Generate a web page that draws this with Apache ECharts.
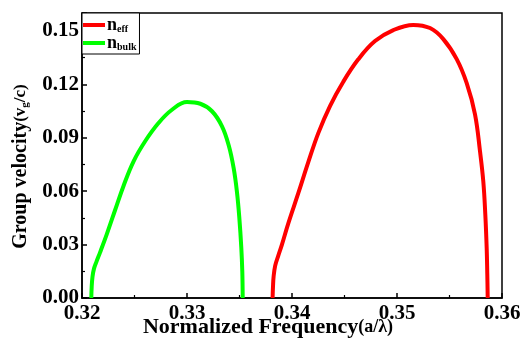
<!DOCTYPE html>
<html><head><meta charset="utf-8">
<script src="https://cdn.jsdelivr.net/npm/echarts@6/dist/echarts.min.js"></script>
<style>html,body{margin:0;padding:0;background:#fff}#c{width:521px;height:340px}</style>
</head><body><div id="c"></div>
<script>
const xTicks = [0.32, 0.33, 0.34, 0.35, 0.36];
const yTicks = [0.00, 0.03, 0.06, 0.09, 0.12, 0.15];
const bulkFreq = [0.320886, 0.320924, 0.321000, 0.321143, 0.321381, 0.321714, 0.322381, 0.323171, 0.323971, 0.324924, 0.326029, 0.327305, 0.328571, 0.330000, 0.331267, 0.332381, 0.333333, 0.333971, 0.334448, 0.334762, 0.334981, 0.335171, 0.335267, 0.335305];
const bulkVel  = [0.00000, 0.00636, 0.01199, 0.01649, 0.02043, 0.02549, 0.03618, 0.04969, 0.06320, 0.07687, 0.08813, 0.09837, 0.10568, 0.11001, 0.10906, 0.10484, 0.09640, 0.08571, 0.07277, 0.05926, 0.04519, 0.02831, 0.01480, 0.00000];
const effFreq = [0.338152, 0.338190, 0.338248, 0.338400, 0.338667, 0.339048, 0.339648, 0.340600, 0.341552, 0.342505, 0.343619, 0.344886, 0.346314, 0.347905, 0.349648, 0.351552, 0.353143, 0.354410, 0.355686, 0.356638, 0.357429, 0.357905, 0.358219, 0.358410, 0.358543, 0.358600, 0.358638];
const effVel  = [0.00000, 0.00636, 0.01199, 0.01818, 0.02324, 0.03011, 0.04193, 0.05881, 0.07626, 0.09257, 0.10777, 0.12144, 0.13399, 0.14423, 0.15042, 0.15333, 0.15155, 0.14536, 0.13410, 0.12060, 0.10315, 0.08233, 0.06545, 0.04688, 0.02774, 0.01311, 0.00000];

const pair = (xs, ys) => xs.map((x, i) => [x, ys[i]]);
const F = 'Liberation Serif, Times New Roman, serif';
const chart = echarts.init(document.getElementById('c'));
chart.setOption({
  animation: false,
  backgroundColor: '#fff',
  grid: {left: 82, right: 19, top: 13, bottom: 42, outerBoundsMode: 'none', containLabel: false,
    show: true, borderColor: '#000', borderWidth: 1.5, backgroundColor: 'transparent'},
  legend: {
    orient: 'vertical', left: 82, top: 13, padding: [3, 3, 2, 1], itemGap: 0,
    borderColor: '#000', borderWidth: 1, backgroundColor: '#fff',
    icon: 'rect', itemWidth: 22, itemHeight: 4,
    data: ['n_eff', 'n_bulk'],
    formatter: n => n === 'n_eff' ? '{n|n}{s|eff}' : '{n|n}{s|bulk}',
    textStyle: {
      fontFamily: F, fontWeight: 'bold', color: '#000', padding: [0, 0, 0, -3],
      rich: {
        n: {fontFamily: F, fontWeight: 'bold', fontSize: 18, lineHeight: 20},
        s: {fontFamily: F, fontWeight: 'bold', fontSize: 10, padding: [8, 0, 0, 0]}
      }
    }
  },
  xAxis: {
    type: 'value', min: xTicks[0], max: xTicks[xTicks.length - 1], interval: 0.01,
    name: '{a|Normalized Frequency}{b|(a/λ)}', nameLocation: 'middle', nameGap: 18, nameMoveOverlap: false,
    nameTextStyle: {fontFamily: F, fontWeight: 'bold', fontSize: 22, color: '#000', padding: [0, 48, 0, 0],
      rich: {
        a: {fontFamily: F, fontWeight: 'bold', fontSize: 22, color: '#000'},
        b: {fontFamily: F, fontWeight: 'bold', fontSize: 18, color: '#000'}
      }},
    axisLine: {lineStyle: {color: '#000', width: 1.5}},
    axisTick: {inside: true, length: 5, lineStyle: {color: '#000', width: 1.5}},
    minorTick: {show: true, splitNumber: 2, length: 3, lineStyle: {color: '#000', width: 1.2}},
    splitLine: {show: false},
    axisLabel: {fontFamily: F, fontWeight: 'bold', fontSize: 21, color: '#000', margin: 5,
      formatter: v => xTicks.some(t => Math.abs(t - v) < 1e-6) ? v.toFixed(2) : ''}
  },
  yAxis: {
    type: 'value', min: 0, max: 0.16, interval: 0.03,
    name: '{a|Group velocity}{b|(v}{s|g}{b|/c)}', nameLocation: 'middle', nameGap: 50, nameMoveOverlap: false,
    nameTextStyle: {fontFamily: F, fontWeight: 'bold', fontSize: 20, color: '#000', padding: [0, 22, 0, 0],
      rich: {
        a: {fontFamily: F, fontWeight: 'bold', fontSize: 20, color: '#000', lineHeight: 22},
        b: {fontFamily: F, fontWeight: 'bold', fontSize: 17, color: '#000', lineHeight: 22},
        s: {fontFamily: F, fontWeight: 'bold', fontSize: 11, color: '#000', padding: [8, 0, 0, 0]}
      }},
    axisLine: {lineStyle: {color: '#000', width: 1.5}},
    axisTick: {inside: true, length: 5, lineStyle: {color: '#000', width: 1.5}},
    minorTick: {show: true, splitNumber: 2, length: 3, lineStyle: {color: '#000', width: 1.2}},
    splitLine: {show: false},
    axisLabel: {fontFamily: F, fontWeight: 'bold', fontSize: 21, color: '#000', margin: 3, showMaxLabel: false,
      formatter: v => yTicks.some(t => Math.abs(t - v) < 1e-6) ? v.toFixed(2) : ''}
  },
  series: [
    {name: 'n_eff', type: 'line', data: pair(effFreq, effVel), smooth: 0.4, showSymbol: false,
      lineStyle: {color: '#ff0000', width: 4}, itemStyle: {color: '#ff0000'}},
    {name: 'n_bulk', type: 'line', data: pair(bulkFreq, bulkVel), smooth: 0.4, showSymbol: false,
      lineStyle: {color: '#00ff00', width: 4}, itemStyle: {color: '#00ff00'}}
  ]
});
</script></body></html>
